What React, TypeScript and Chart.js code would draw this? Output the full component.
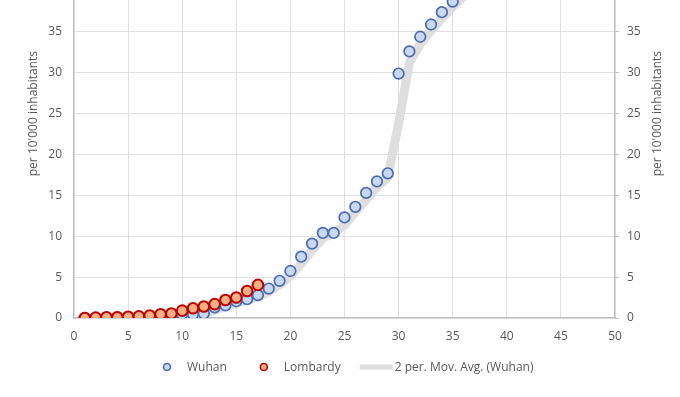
import React, { useEffect, useRef } from "react";
import { Chart, registerables } from "chart.js";

Chart.register(...registerables);

// ---- data ----
const wuhanDays = [1, 2, 3, 4, 5, 6, 7, 8, 9, 10, 11, 12, 13, 14, 15, 16, 17, 18, 19, 20, 21, 22, 23, 24, 25, 26, 27, 28, 29, 30, 31, 32, 33, 34, 35, 36];
const wuhanValues = [0.0, 0.02, 0.04, 0.06, 0.1, 0.14, 0.2, 0.28, 0.38, 0.45, 0.45, 0.55, 1.3, 1.55, 2.05, 2.3, 2.8, 3.6, 4.55, 5.75, 7.5, 9.1, 10.4, 10.4, 12.3, 13.6, 15.3, 16.7, 17.7, 29.9, 32.6, 34.4, 35.9, 37.4, 38.7, 40.0];
const lombardyDays = [1, 2, 3, 4, 5, 6, 7, 8, 9, 10, 11, 12, 13, 14, 15, 16, 17];
const lombardyValues = [0.0, 0.05, 0.1, 0.1, 0.15, 0.2, 0.3, 0.45, 0.55, 0.9, 1.2, 1.4, 1.7, 2.2, 2.5, 3.3, 4.05];
const seriesNames = ["Wuhan", "Lombardy", "2 per. Mov. Avg. (Wuhan)"];
const axisTitle = "per 10'000 inhabitants";
const xMin = 0, xMax = 50, xStep = 5;
const yMin = 0, yMax = 50, yStep = 5;

const FONT = "'Open Sans', 'Noto Sans', sans-serif";
const TEXT = "#595959";
const GRID = "#e0e0e0";
const AXIS = "#bfbfbf";
const W_FILL = "#c9d7ef";
const W_BORDER = "#4a6cb3";
const L_FILL = "#f4b183";
const L_BORDER = "#c00000";
const AVG = "#dedede";

const OFFSET = 110; // canvas shifted up: the plot's top lies above the picture

const movingAvg = wuhanDays.slice(1).map((d, i) => ({ x: d, y: (wuhanValues[i] + wuhanValues[i + 1]) / 2 }));

const extrasPlugin = {
  id: "extras",
  afterDraw(chart: any) {
    const ctx = chart.ctx as CanvasRenderingContext2D;
    const area = chart.chartArea;
    ctx.save();
    // right axis title (reads bottom-to-top, like the left one)
    ctx.font = `12px ${FONT}`;
    ctx.fillStyle = TEXT;
    ctx.textAlign = "center";
    ctx.textBaseline = "middle";
    ctx.translate(658, (area.top + area.bottom) / 2);
    ctx.rotate(-Math.PI / 2);
    ctx.fillText(axisTitle, 0, 0);
    ctx.restore();

    // legend
    ctx.save();
    ctx.font = `12px ${FONT}`;
    ctx.textBaseline = "middle";
    ctx.textAlign = "left";
    const y = 367 + OFFSET;
    const w0 = ctx.measureText(seriesNames[0]).width;
    const w1 = ctx.measureText(seriesNames[1]).width;
    const markerItem = 24; // marker + gap before text
    let x = 163;
    const drawMarker = (cx: number, fill: string, stroke: string) => {
      ctx.beginPath();
      ctx.arc(cx, y, 3.5, 0, Math.PI * 2);
      ctx.fillStyle = fill;
      ctx.fill();
      ctx.lineWidth = 1.6;
      ctx.strokeStyle = stroke;
      ctx.stroke();
    };
    drawMarker(x + 4, W_FILL, W_BORDER);
    ctx.fillStyle = TEXT;
    ctx.fillText(seriesNames[0], x + markerItem, y + 0.5);
    x += markerItem + w0 + 33;
    drawMarker(x + 4, L_FILL, L_BORDER);
    ctx.fillStyle = TEXT;
    ctx.fillText(seriesNames[1], x + markerItem, y + 0.5);
    x += markerItem + w1 + 19;
    ctx.fillStyle = AVG;
    ctx.fillRect(x, y - 2.5, 33, 5);
    ctx.fillStyle = TEXT;
    ctx.fillText(seriesNames[2], x + 35, y + 0.5);
    ctx.restore();
  },
};

export default function App() {
  const ref = useRef<HTMLCanvasElement>(null);
  useEffect(() => {
    if (!ref.current) return;
    const chart = new Chart(ref.current, {
      type: "scatter",
      data: {
        datasets: [
          {
            label: seriesNames[1],
            data: lombardyDays.map((d, i) => ({ x: d, y: lombardyValues[i] })),
            backgroundColor: L_FILL,
            borderColor: L_BORDER,
            borderWidth: 2,
            pointRadius: 5.3,
            order: 0,
          },
          {
            label: seriesNames[0],
            data: wuhanDays.map((d, i) => ({ x: d, y: wuhanValues[i] })),
            backgroundColor: W_FILL,
            borderColor: W_BORDER,
            borderWidth: 1.7,
            pointRadius: 5.3,
            order: 1,
          },
          {
            label: seriesNames[2],
            data: movingAvg,
            showLine: true,
            borderColor: AVG,
            borderWidth: 9,
            pointRadius: 0,
            borderJoinStyle: "round",
            borderCapStyle: "round",
            order: 2,
          } as any,
        ],
      },
      options: {
        responsive: false,
        animation: false,
        layout: { padding: { top: 17.5, left: 0, right: 0, bottom: 0 } },
        plugins: { legend: { display: false }, tooltip: { enabled: false } },
        scales: {
          x: {
            type: "linear",
            min: xMin,
            max: xMax,
            ticks: { stepSize: xStep, color: TEXT, font: { family: FONT, size: 12 }, padding: 11 },
            grid: { color: GRID, lineWidth: 1, drawTicks: false },
            border: { color: AXIS, width: 1.2 },
            afterFit: (s: any) => { s.height = 79; },
          },
          y: {
            type: "linear",
            position: "left",
            min: yMin,
            max: yMax,
            ticks: { stepSize: yStep, color: TEXT, font: { family: FONT, size: 12 }, padding: 12 },
            grid: { color: GRID, lineWidth: 1, drawTicks: false },
            border: { color: AXIS, width: 1.2 },
            title: { display: true, text: axisTitle, color: TEXT, font: { family: FONT, size: 12 }, padding: { top: 26, bottom: 0 } },
            afterFit: (s: any) => { s.width = 74; },
          },
          y2: {
            type: "linear",
            position: "right",
            min: yMin,
            max: yMax,
            ticks: { stepSize: yStep, color: TEXT, font: { family: FONT, size: 12 }, padding: 8 },
            grid: { drawOnChartArea: false, drawTicks: true, tickLength: 4, color: AXIS },
            border: { color: AXIS, width: 1.2 },
            afterFit: (s: any) => { s.width = 65; },
          },
        },
      },
      plugins: [extrasPlugin],
    });
    return () => chart.destroy();
  }, []);
  return (
    <div style={{ position: "absolute", left: 0, top: -OFFSET, width: 680, height: 397 + OFFSET, background: "#fff" }}>
      <canvas ref={ref} width={680} height={397 + OFFSET} />
    </div>
  );
}
